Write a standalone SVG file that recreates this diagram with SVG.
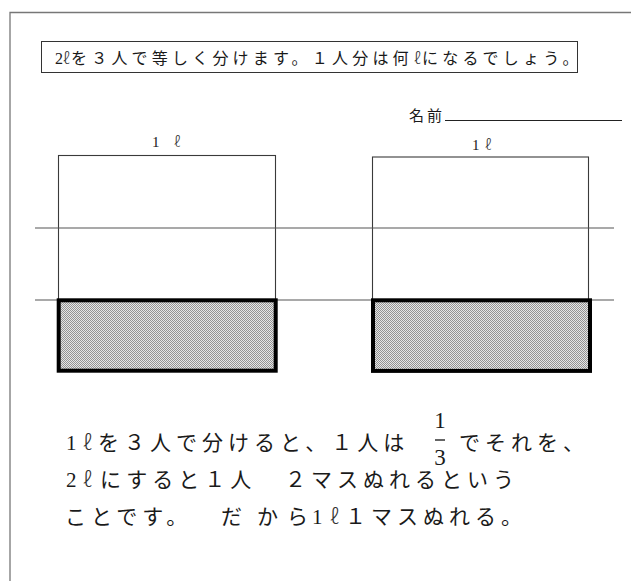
<svg xmlns="http://www.w3.org/2000/svg" width="631" height="581" viewBox="0 0 631 581">
<style>
text { font-family: "Liberation Serif", "Noto Sans CJK JP", serif; fill: #1a1a1a; }
.q { font-size: 16px; letter-spacing: 4.2px; }
.b { font-size: 21px; letter-spacing: 5px; }
.lbl { font-size: 15px; }
.ns { letter-spacing: 0; }
.ell { font-family: "Noto Sans CJK JP", "DejaVu Serif", serif; font-weight: 200; fill: #333; }
.frac { font-family: "Liberation Serif", serif; font-size: 23px; }
.thin { fill: #fff; stroke: #3a3a3a; stroke-width: 1.1; }
.shade { fill: url(#dots); stroke: #000; stroke-width: 4; }
.hline { stroke: #555; stroke-width: 1.1; }
</style>
<defs>
<pattern id="dots" width="2" height="2" patternUnits="userSpaceOnUse">
<rect width="2" height="2" fill="#e6e6e6"/>
<rect width="1" height="1" fill="#939393"/>
<rect x="1" y="1" width="1" height="1" fill="#939393"/>
</pattern>
</defs>
<rect width="631" height="581" fill="#fff"/>
<path d="M10,581 V12.5 H631" fill="none" stroke="#777" stroke-width="1.3"/>

<g id="question">
<rect x="41.5" y="41.5" width="536" height="31" fill="#fff" stroke="#333" stroke-width="1"/>
<text class="q ns" x="55" y="64">2<tspan class="ell" x="63">ℓ</tspan></text>
<text class="q" x="71" y="64">を３人で等しく分けます。１人分は何</text>
<text class="q ns ell" x="414" y="64">ℓ</text>
<text class="q" x="422" y="64">になるでしょう。</text>
</g>

<g id="name">
<text class="lbl" x="409" y="121" style="letter-spacing:3px">名前</text>
<line x1="445" y1="120.5" x2="622" y2="120.5" stroke="#222" stroke-width="1"/>
</g>

<g id="container-left">
<text class="lbl" x="152" y="147">1<tspan class="ell" x="174">ℓ</tspan></text>
<rect class="thin" x="58.5" y="155.5" width="217" height="144.5"/>
</g>
<g id="container-right">
<text class="lbl" x="472" y="150">1<tspan class="ell" x="485">ℓ</tspan></text>
<rect class="thin" x="372.5" y="157" width="216" height="143"/>
</g>

<g id="connectors">
<line class="hline" x1="35" y1="228" x2="614" y2="228"/>
<line class="hline" x1="35" y1="300" x2="614" y2="300"/>
</g>

<g id="shaded-left">
<rect class="shade" x="58.7" y="300.3" width="217" height="70.4"/>
</g>
<g id="shaded-right">
<rect class="shade" x="373" y="300.3" width="217" height="70.6"/>
</g>

<g id="explanation">
<text class="b ns" x="66" y="450">1<tspan class="ell" x="83">ℓ</tspan></text>
<text class="b" x="98" y="450">を３人で分けると、１人は</text>
<text class="frac" x="440" y="428" text-anchor="middle">1</text>
<line x1="435" y1="440" x2="445" y2="440" stroke="#111" stroke-width="1.3"/>
<text class="frac" x="440" y="465" text-anchor="middle">3</text>
<text class="b" x="459" y="450">でそれを、</text>

<text class="b ns" x="66" y="487">2<tspan class="ell" x="83">ℓ</tspan></text>
<text class="b" x="100" y="487">にすると１人</text>
<text class="b" x="285" y="487">２マスぬれるという</text>

<text class="b" x="65" y="524">ことです。</text>
<text class="b" x="221" y="524">だ</text>
<text class="b" x="257" y="524">か</text>
<text class="b" x="287" y="524">ら</text>
<text class="b ns" x="312" y="524">1<tspan class="ell" x="330">ℓ</tspan></text>
<text class="b" x="345" y="524">１マスぬれる。</text>
</g>
</svg>
